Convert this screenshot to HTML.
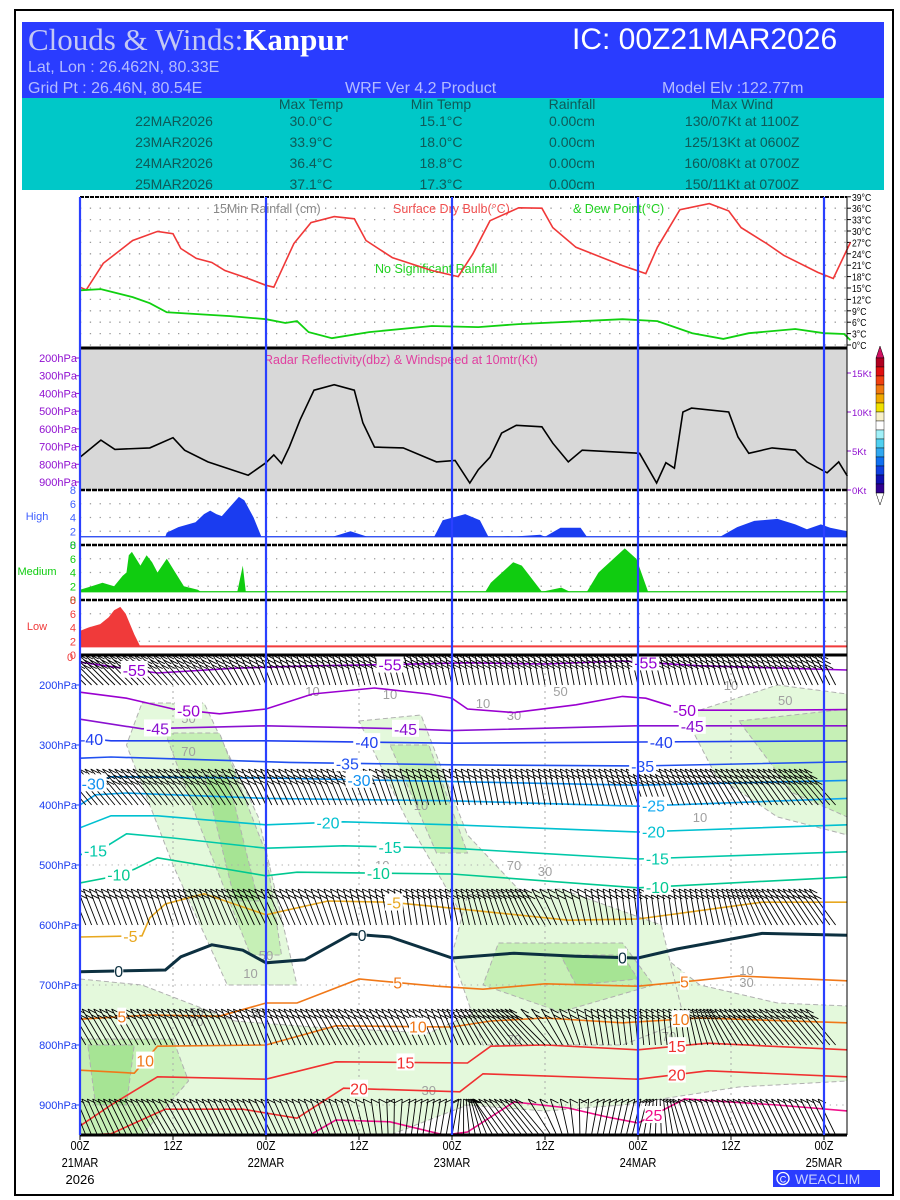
<!DOCTYPE html>
<html><head><meta charset="utf-8"><title>Clouds & Winds: Kanpur</title>
<style>
html,body{margin:0;padding:0;background:#fff;}
svg{display:block;font-family:"Liberation Sans",sans-serif;}
</style></head>
<body>
<svg id="chart" xmlns="http://www.w3.org/2000/svg" width="900" height="1200" viewBox="0 0 900 1200">
<rect x="15" y="10" width="878" height="1185" fill="#fff" stroke="#000" stroke-width="2"/>
<g>
<rect x="22" y="22" width="862" height="76" fill="#2a3cff"/>
<text x="28" y="50" font-family="Liberation Serif,serif" font-size="31" fill="#c4c8f4">Clouds &amp; Winds:<tspan fill="#fff" font-weight="bold">Kanpur</tspan></text>
<text x="572" y="49" font-size="30" fill="#fff">IC: 00Z21MAR2026</text>
<text x="28" y="72" font-size="16" fill="#b4bcff">Lat, Lon : 26.462N, 80.33E</text>
<text x="28" y="93" font-size="16" fill="#b4bcff">Grid Pt  : 26.46N, 80.54E</text>
<text x="345" y="93" font-size="16" fill="#b4bcff">WRF Ver 4.2 Product</text>
<text x="662" y="93" font-size="16" fill="#b4bcff">Model Elv :122.77m</text>
<rect x="22" y="98" width="862" height="92" fill="#00c8c8"/>
<g font-size="14" fill="#0e5a58" text-anchor="middle">
<text x="311" y="109">Max Temp</text><text x="441" y="109">Min Temp</text><text x="572" y="109">Rainfall</text><text x="742" y="109">Max Wind</text>
<text x="174" y="126">22MAR2026</text><text x="311" y="126">30.0°C</text><text x="441" y="126">15.1°C</text><text x="572" y="126">0.00cm</text><text x="742" y="126">130/07Kt at 1100Z</text>
<text x="174" y="147">23MAR2026</text><text x="311" y="147">33.9°C</text><text x="441" y="147">18.0°C</text><text x="572" y="147">0.00cm</text><text x="742" y="147">125/13Kt at 0600Z</text>
<text x="174" y="168">24MAR2026</text><text x="311" y="168">36.4°C</text><text x="441" y="168">18.8°C</text><text x="572" y="168">0.00cm</text><text x="742" y="168">160/08Kt at 0700Z</text>
<text x="174" y="189">25MAR2026</text><text x="311" y="189">37.1°C</text><text x="441" y="189">17.3°C</text><text x="572" y="189">0.00cm</text><text x="742" y="189">150/11Kt at 0700Z</text>
</g>
</g>
<g id="gTemp"></g>
<g id="gRadar"></g>
<g id="gCloud"></g>
<g id="gMain"></g>
<g id="gFrame"></g>
<g>
<rect x="773" y="1170" width="107" height="17" fill="#2a3cff"/>
<circle cx="783" cy="1178.5" r="6" fill="none" stroke="#fff" stroke-width="1.3"/>
<text x="783" y="1182.5" font-size="9" fill="#fff" text-anchor="middle">C</text>
<text x="795" y="1184" font-size="14" fill="#c8d0ff">WEACLIM</text>
</g>
</svg>
<script>
// ---------- data ----------
const tempHours=[0,0.8,3,6.8,10,12,13,15,17,18.7,21.7,24,25,27.6,29.8,32.8,35.4,36.9,40.3,45.4,48.8,50.7,52.9,56.6,59.6,61,64,70,73,74.5,77.4,81.2,83.7,85.3,88.6,90.8,95.2,97.2,99.4];
const tempValues=[15.2,14.5,21.5,27.5,29.9,29.3,25.4,22.8,21.7,19.6,17.5,15.7,15.2,26.7,32.2,33.8,33.2,27.5,23,19.6,18,24,32.7,36.1,36,30.9,25.7,20.9,18.8,25.7,35.6,37.2,35.3,30.9,26.7,23.6,19.1,17.5,27];
const dewHours=[0,2.7,6.8,9,11.2,19.4,24,26.5,28,29.5,32.5,37.3,45.4,51.4,56.6,70,74.5,79,83,86.3,92.3,96,98.6,99.4];
const dewValues=[14.4,14.7,12.6,11,8.6,7.6,6.8,5.8,6.3,3.4,1.8,3.4,5,4.7,5.5,6.8,6.3,3.1,1.6,3.1,4.2,3.1,2.9,1.3];
const tempTicks=[0,3,6,9,12,15,18,21,24,27,30,33,36,39];
const windHours=[0,2.7,4.5,9,12,13.5,16.5,21.7,24,25,26,27,28.4,30.2,32.8,35.4,36.5,38,41.7,46,48.4,50.3,51.4,52.9,54.4,56.3,59.6,61,63,64.8,72.2,74.4,75.6,76.7,77.8,78.9,83.7,84.9,86.3,89.3,92.3,93.8,96.4,97.9,99];
const windKt=[4.2,6.4,5.2,5.4,6.7,5.1,3.6,1.9,3.5,4.5,3.4,5.5,9,12.8,13.5,12.8,8.6,5.5,5.4,3.6,3.8,0.9,2.6,4.2,7.3,8.3,8.1,6,3.6,5.1,4.7,0.9,3.5,2.8,10,10.5,10,6.8,4.7,5.4,5.1,3.6,2.2,3.6,1.8];
const windTicks=[0,5,10,15];
const radarPressTicks=[200,300,400,500,600,700,800,900];
const highHours=[0,11,11.2,12.7,14.9,16,16.8,17.6,18.3,19.4,20.5,21.2,22.4,23.4,32.6,34.9,37.1,45.7,46.8,49.7,51.6,52.7,53.8,55.3,56,56.8,59.4,60,62,64.6,65.4,82.6,84.8,87,90,92.3,93.8,95.6,96.8,99];
const highValues=[1,1,1.8,2.6,3.3,4.5,5,4.5,4.2,5.6,7,6.5,4,1,1,2,1,1,3.6,4.5,3.6,1.2,1,1.3,1,1.3,1.5,1,2.5,2.5,1,1,2.6,3.5,3.8,3,2.3,3,2.5,2];
const medHours=[0,1.5,2.9,4.4,5.5,6,6.3,6.7,7.8,8.6,9.3,10,11.2,12.3,13.4,15.2,15.6,20.3,21,21.4,52.3,53,55.9,57,59.6,62.1,63.2,65.4,66.9,70.3,71.8,73.3,99];
const medValues=[1.5,2,2.5,2,3.5,4,6.5,7,5,6.5,5.5,4,6,4,2,1.5,1,1,5,1,1,2.5,5.5,5,1,1.8,1,1,4,7.5,6,1,1];
const lowHours=[0,1.1,2.6,3.7,4.4,5.2,5.9,7,7.7,8,99];
const lowValues=[3.5,4,4.5,5.5,6.5,7,6,3,1.4,1.4,1.4];
const cloudTicks=[0,2,4,6,8];
const pressTicks=[200,300,400,500,600,700,800,900];
const dayHours=[0,24,48,72,96];
const timeTicks=[0,12,24,36,48,60,72,84,96];
const timeLabels=["00Z","12Z","00Z","12Z","00Z","12Z","00Z","12Z","00Z"];
const dateLabels=["21MAR","","22MAR","","23MAR","","24MAR","","25MAR"];
// isotherms: hours and pressures
const isoT=[-55,-50,-45,-40,-35,-30,-25,-20,-15,-10,-5,0,5,10,15,20,25];
const isoH=[
[0,10,20,30,40,50,60,70,80,99],
[0,6,12,18,24,30,38,45,48,50,56,64,70,73,78,89,99],
[0,8,24,42,48,72,99],
[0,4,24,48,72,99],
[0,4,27,48,72,99],
[0,4,24,48,72,99],
[0,2,6,24,48,72,99],
[0,4,10,24,34,48,72,99],
[0,3,6,12,24,34,48,72,99],
[0,4,7,10,18,24,28,48,72,99],
[0,8,9,11,16,24,32,40,48,63,72,88,99],
[0,11,13,17,21,24,29,35,40,48,56,64,72,77,88,99],
[0,9,18,24,28,36,46,52,60,72,80,85,99],
[0,7,10,24,33,48,53,60,70,80,99],
[0,4,10,24,33,50,53,60,72,81,99],
[0,4,11,21,28,34,49,52,72,81,99],
[29,33,40,47,50,56,63,68,72,78,90,99]];
const isoP=[
[162,180,172,168,166,163,165,160,168,175],
[212,222,240,248,240,215,205,215,222,240,246,233,219,222,242,242,241],
[257,273,268,273,276,268,268],
[288,293,293,297,295,293],
[322,320,329,333,335,328],
[372,353,355,361,367,359],
[400,383,380,389,393,402,389],
[438,418,418,433,428,433,445,433],
[483,472,448,455,472,468,472,490,478],
[530,520,507,488,505,518,512,515,538,520],
[620,618,588,565,548,583,560,562,572,592,590,562,562],
[678,675,653,633,642,663,658,615,620,655,647,652,655,640,614,617],
[757,750,752,730,730,690,702,707,698,702,692,685,693],
[842,847,802,800,768,770,760,755,763,755,763],
[935,900,853,857,828,830,802,800,808,797,808],
[950,948,907,907,922,872,878,848,857,843,853],
[955,925,928,950,945,895,905,920,930,890,900,910]];
const isoColor={"-55":"#9400d3","-50":"#9a00d0","-45":"#8a10d0","-40":"#2040f0","-35":"#2050f0","-30":"#1090f0","-25":"#10a8f0","-20":"#00c0d0","-15":"#00c8a8","-10":"#00c890","-5":"#e8a820","0":"#0c3040","5":"#f07818","10":"#f07818","15":"#f03030","20":"#f03030","25":"#f0108a"};
const isoLabelH=[[7,40,73],[14,78],[10,42,79],[1.5,37,75],[34.5,72.6],[1.7,36],[74],[32,74],[2,40,74.5],[5,38.5,74.5],[6.5,40.5],[5,36.4,70],[5.4,41,78],[8.4,43.6,77.5],[42,77],[36,77],[74]];
// relative humidity shading regions [hour, hPa] pairs
const rhLight=[
[[0,690],[8,700],[20,760],[30,770],[45,780],[52,740],[54,640],[62,600],[72,620],[80,700],[90,730],[99,735],[99,860],[85,870],[70,900],[60,910],[50,900],[40,950],[0,950]],
[[8,230],[16,230],[23,420],[28,700],[19,700],[12,500],[6,300]],
[[36,260],[44,250],[50,450],[58,560],[50,600],[42,420]],
[[50,550],[62,540],[75,600],[78,760],[70,800],[52,800],[48,650]],
[[78,250],[90,200],[99,215],[99,450],[90,420],[82,350]]];
const rhMid=[
[[11,280],[18,280],[24,480],[26,650],[22,650],[15,420]],
[[54,630],[70,630],[74,700],[62,745],[52,700]],
[[0,790],[12,790],[14,860],[8,950],[0,950]],
[[85,260],[99,240],[99,420],[92,380]],
[[40,300],[45,300],[50,480],[46,480]]];
const rhDark=[[[62,650],[70,650],[72,690],[64,700]],[[1,800],[7,800],[6,900],[2,900]],[[16,350],[19,350],[23,560],[20,560]]];
const rhLabels=[["10",30,210],["50",14,255],["70",14,310],["10",40,215],["50",62,210],["10",52,230],["30",56,250],["70",56,500],["30",60,510],["10",39,500],["50",24,650],["10",22,680],["30",23,745],["50",15,745],["70",15,760],["70",56,790],["70",76,785],["10",86,675],["30",86,695],["30",45,875],["10",44,400],["10",80,420],["50",91,225],["10",84,200]];
// wind barb rows: base pressure & direction tilt (deg from vertical) every 6 h
const barbP=[200,400,600,800,950];
const barbTilt=[
[55,55,52,45,30,25,22,20,18,15,15,15,18,20,25,30,35],
[50,50,48,45,35,32,30,25,20,15,15,20,25,30,40,45,50],
[30,28,25,30,35,30,20,12,15,25,40,15,10,12,20,40,45],
[40,40,35,33,30,35,40,35,30,45,55,15,8,10,40,50,50],
[30,35,40,35,35,30,25,-10,-15,45,50,-15,-20,25,30,35,35]];
const barbSpeedFeathers=[
[3,3,3,3,3,3,3,3,3,3,3,3,3,3,3,3,3],
[3,3,3,3,3,3,3,2,2,2,2,2,3,3,3,3,3],
[2,2,2,2,2,2,2,2,2,2,2,2,2,2,2,2,2],
[2,2,2,2,2,2,2,2,2,2,2,2,2,2,2,2,2],
[1,1,1,1,1,1,1,1,1,1,1,1,1,1,1,1,1]];

// ---------- axis functions ----------
const X=h=>80+h*7.75;
const YT=t=>345-t*3.8;
const YW=k=>490-k*7.8;
const YP=p=>685+(p-200)*0.6;
const YRP=p=>358+(p-200)*(124/700);
const YC=(top,v)=>top+55-v*55/8;
const NS="http://www.w3.org/2000/svg";
function mk(parent,tag,attrs){const e=document.createElementNS(NS,tag);for(const k in attrs)e.setAttribute(k,attrs[k]);parent.appendChild(e);return e;}
function txt(parent,x,y,s,attrs){const e=mk(parent,'text',Object.assign({x:x,y:y},attrs));e.textContent=s;return e;}
function pathFrom(hs,vs,fx,fy){return hs.map((h,i)=>(i?'L':'M')+X(h).toFixed(1)+' '+fy(vs[i]).toFixed(1)).join(' ');}
function polyFrom(pts){return pts.map((q,i)=>(i?'L':'M')+X(q[0]).toFixed(1)+' '+YP(q[1]).toFixed(1)).join(' ')+'Z';}

// ---------- temperature panel ----------
const gT=document.getElementById('gTemp');
tempTicks.forEach(t=>{
  const l=mk(gT,'line',{x1:80,x2:847,y1:YT(t),y2:YT(t),stroke:'#999','stroke-width':1.3,'stroke-dasharray':'1.3 8.5'});
  
  
  mk(gT,'line',{x1:847,x2:851,y1:YT(t),y2:YT(t),stroke:'#000'});
  const tl=txt(gT,852,YT(t)+4,t+'°C',{'font-size':10.5,fill:'#000',transform:`translate(852 ${YT(t)+4}) scale(0.82 1) translate(-852 ${-(YT(t)+4)})`});
  
  
});
const tt1=txt(gT,213,213,'15Min Rainfall (cm)',{'font-size':12.5,fill:'#888'});


const tt2=txt(gT,393,213,'Surface Dry Bulb(°C)',{'font-size':12.5,fill:'#f05050'});


const tt3=txt(gT,573,213,'& Dew Point(°C)',{'font-size':12.5,fill:'#20d020'});


const nr=txt(gT,375,273,'No Significant Rainfall',{'font-size':12.5,fill:'#20d020'});


const tLine=mk(gT,'path',{d:pathFrom(tempHours,tempValues,X,YT),fill:'none',stroke:'#f03838','stroke-width':1.6});


const dLine=mk(gT,'path',{d:pathFrom(dewHours,dewValues,X,YT),fill:'none',stroke:'#10d010','stroke-width':1.8});



// ---------- radar / wind panel ----------
const gR=document.getElementById('gRadar');
const rbg=mk(gR,'rect',{x:80,y:348,width:767,height:142,fill:'#d8d8d8'});


const rt=txt(gR,264,364,'Radar Reflectivity(dbz) & Windspeed at 10mtr(Kt)',{'font-size':12.5,fill:'#e040a0'});


radarPressTicks.forEach(p=>{
  mk(gR,'line',{x1:76,x2:80,y1:YRP(p),y2:YRP(p),stroke:'#9010d0'});
  const l=txt(gR,77,YRP(p)+4,p+'hPa',{'font-size':11,fill:'#9010d0','text-anchor':'end'});
  
  
});
windTicks.forEach(k=>{
  mk(gR,'line',{x1:847,x2:851,y1:YW(k),y2:YW(k),stroke:'#9010d0'});
  const l=txt(gR,852,YW(k)+4,k+'Kt',{'font-size':9.5,fill:'#9010d0'});
  
  
});
const wLine=mk(gR,'path',{d:pathFrom(windHours,windKt,X,YW),fill:'none',stroke:'#000','stroke-width':1.6});


const cbColors=['#b00020','#e01010','#f04010','#f07810','#f0a800','#f0e000','#f8f0c8','#ffffff','#a0f0f8','#50d0f0','#30a8f0','#1070f0','#1040e0','#1010b0','#300090'];
const cb=mk(gR,'g',{});


mk(cb,'path',{d:'M876 358 L880 346 L884 358 Z',fill:'#d01060',stroke:'#000','stroke-width':0.5});
cbColors.forEach((c,i)=>mk(cb,'rect',{x:876,y:358+i*9,width:8,height:9,fill:c,stroke:'#000','stroke-width':0.4}));
mk(cb,'path',{d:'M876 493 L880 505 L884 493 Z',fill:'#fff',stroke:'#000','stroke-width':0.5});

// ---------- cloud panels ----------
const gC=document.getElementById('gCloud');
const panels=[[490,highHours,highValues,'#1a3cf0','High','#4060ff'],[545,medHours,medValues,'#10cc10','Medium','#10cc10'],[600,lowHours,lowValues,'#f03a3a','Low','#f03a3a']];
panels.forEach(pn=>{
  const top=pn[0];
  cloudTicks.forEach(v=>{
    if(v>0&&v<8) mk(gC,'line',{x1:80,x2:847,y1:YC(top,v),y2:YC(top,v),stroke:'#999','stroke-width':1.3,'stroke-dasharray':'1.3 8.5'});
    const l=txt(gC,76,YC(top,v)+4,String(v),{'font-size':11,fill:pn[5],'text-anchor':'end'});
    
    
  });
  const nl=txt(gC,37,top+30,pn[4],{'font-size':11,fill:pn[5],'text-anchor':'middle'});
  
  
  const base=YC(top,1.2);
  const hs=pn[1],vs=pn[2];
  let d='M'+X(hs[0])+' '+base;
  hs.forEach((h,i)=>{d+=' L'+X(h).toFixed(1)+' '+Math.min(base,YC(top,vs[i])).toFixed(1);});
  d+=' L'+X(hs[hs.length-1])+' '+base+'Z';
  const a=mk(gC,'path',{d:d,fill:pn[3]});
  
  
  mk(gC,'line',{x1:80,x2:847,y1:base,y2:base,stroke:pn[3],'stroke-width':1.2});
});

// ---------- main cross-section ----------
const gM=document.getElementById('gMain');
const clip=mk(gM,'clipPath',{id:'mclip'});
mk(clip,'rect',{x:80,y:655,width:767,height:480});
const gMc=mk(gM,'g',{'clip-path':'url(#mclip)'});
[[rhLight,'#e4f9dc'],[rhMid,'#c6f0b6'],[rhDark,'#a6e494']].forEach(set=>{
  set[0].forEach(poly=>{
    const e=mk(gMc,'path',{d:polyFrom(poly),fill:set[1],stroke:'#b0b0b0','stroke-width':1,'stroke-dasharray':'5 3'});
    
    
  });
});
[500,700,900].forEach(p=>mk(gMc,'line',{x1:80,x2:847,y1:YP(p),y2:YP(p),stroke:'#aaa','stroke-dasharray':'1.3 5'}));
[12,36,60,84].forEach(h=>mk(gMc,'line',{x1:X(h),x2:X(h),y1:655,y2:1135,stroke:'#aaa','stroke-dasharray':'2 4'}));
rhLabels.forEach(r=>{
  const l=txt(gMc,X(r[1]),YP(r[2])+5,r[0],{'font-size':13,fill:'#a0a0a0','text-anchor':'middle'});
  
  
});
// isotherms
isoT.forEach((t,i)=>{
  const c=isoColor[String(t)];
  const e=mk(gMc,'path',{d:pathFrom(isoH[i],isoP[i],X,YP),fill:'none',stroke:c,'stroke-width':t===0?3:1.6});
  
  
});
// barbs
function interpTilt(row,h){const k=h/6;const i=Math.min(15,Math.floor(k));const f=k-i;return barbTilt[row][i]*(1-f)+barbTilt[row][i+1]*f;}
barbP.forEach((p,r)=>{
  const yb=YP(p);
  const g=mk(gMc,'g',{stroke:'#000','stroke-width':0.9,fill:'none'});
  
  
  const L=r===0?30:36;
  for(let h=0;h<=97.5;h+=0.75){
    const a=interpTilt(r,h)*Math.PI/180;
    const x0=X(h),x1=x0-Math.tan(a)*L*0.7,y1=yb-L;
    let d=`M${x0.toFixed(1)} ${yb.toFixed(1)} L${x1.toFixed(1)} ${y1.toFixed(1)}`;
    const nf=barbSpeedFeathers[r][Math.min(16,Math.round(h/6))];
    const sgn=a>=0?1:-1;
    for(let f=0;f<nf;f++){
      const fx=x1+(x0-x1)*f*0.16,fy=y1+(yb-y1)*f*0.16;
      d+=` M${fx.toFixed(1)} ${fy.toFixed(1)} l${(sgn*8).toFixed(1)} 4`;
    }
    mk(g,'path',{d:d});
  }
});
// isotherm labels
isoT.forEach((t,i)=>{
  const c=isoColor[String(t)];
  isoLabelH[i].forEach(h=>{
    const hs=isoH[i],ps=isoP[i];
    let j=0;while(j<hs.length-2&&hs[j+1]<h)j++;
    const f=Math.max(0,Math.min(1,(h-hs[j])/(hs[j+1]-hs[j])));
    const p=ps[j]*(1-f)+ps[j+1]*f;
    const s=String(t);
    mk(gMc,'rect',{x:X(h)-s.length*4.5,y:YP(p)-9,width:s.length*9,height:17,fill:'#fff'});
    const l=txt(gMc,X(h),YP(p)+6,s,{'font-size':16,fill:c,'text-anchor':'middle'});
    
    
  });
});
pressTicks.forEach(p=>{
  mk(gM,'line',{x1:76,x2:80,y1:YP(p),y2:YP(p),stroke:'#1a3cf0'});
  const l=txt(gM,77,YP(p)+4,p+'hPa',{'font-size':11,fill:'#1a3cf0','text-anchor':'end'});
  
  
});
const zl=txt(gM,70,661,'0',{'font-size':11,fill:'#f03a3a','text-anchor':'middle'});


timeTicks.forEach((h,i)=>{
  mk(gM,'line',{x1:X(h),x2:X(h),y1:1135,y2:1140,stroke:'#000'});
  const l=txt(gM,X(h),1150,timeLabels[i],{'font-size':13,fill:'#000','text-anchor':'middle',transform:`translate(${X(h)} 0) scale(0.85 1) translate(${-X(h)} 0)`});
  
  
  if(dateLabels[i]){
    const d=txt(gM,X(h),1167,dateLabels[i],{'font-size':13,fill:'#000','text-anchor':'middle',transform:`translate(${X(h)} 0) scale(0.85 1) translate(${-X(h)} 0)`});
    
    
  }
});
const yl=txt(gM,X(0),1184,'2026',{'font-size':13,fill:'#000','text-anchor':'middle'});



// ---------- frames ----------
const gF=document.getElementById('gFrame');
mk(gF,'line',{x1:80,x2:847,y1:197,y2:197,stroke:'#000','stroke-width':2,'stroke-dasharray':'4 1'});
[348,655,1135].forEach(y=>mk(gF,'line',{x1:80,x2:847,y1:y,y2:y,stroke:'#000','stroke-width':3}));
[490,545,600].forEach(y=>mk(gF,'line',{x1:80,x2:847,y1:y,y2:y,stroke:'#000','stroke-width':2.5,'stroke-dasharray':'5 1'}));
mk(gF,'line',{x1:847,x2:847,y1:197,y2:1135,stroke:'#000','stroke-width':1});
dayHours.forEach(h=>{
  const l=mk(gF,'line',{x1:X(h),x2:X(h),y1:197,y2:1135,stroke:'#2a40ff','stroke-width':2.2});
  
  
});
</script>
</body></html>
